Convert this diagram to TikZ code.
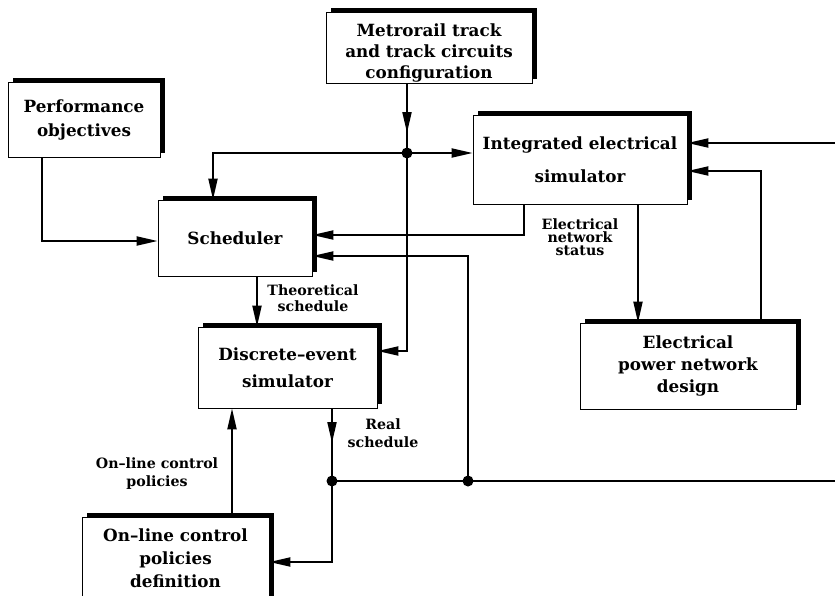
\documentclass[tikz,border=0pt]{standalone}
\usepackage{fontspec}
\setmainfont{DejaVu Serif}
\usetikzlibrary{arrows.meta,shadows,calc}
\begin{document}
\begin{tikzpicture}[x=1pt,y=-1pt,
  box/.style={draw,line width=0.8pt,fill=white,inner sep=0pt,align=center,
    drop shadow={shadow xshift=5pt,shadow yshift=4pt,fill=black,opacity=1}},
  bf/.style={font=\bfseries\fontsize{16.8}{#1}\selectfont},
  conn/.style={line width=2pt},
  arr/.style={conn,-{Triangle[length=21pt,width=9pt]}},
  lbl/.style={font=\bfseries\fontsize{14.2}{#1}\selectfont,align=center,inner sep=0pt},
  dot/.style={circle,fill=black,inner sep=0pt,minimum size=11pt}]
\useasboundingbox (0,0) rectangle (835,595);

% boxes
\node[box,bf=21,minimum width=206pt,minimum height=71pt,text height=66pt] (metro) at (429,47.5) {Metrorail track\\and track circuits\\configuration};
\node[box,bf=24,minimum width=152pt,minimum height=75pt] (perf) at (84,119.5) {Performance\\objectives};
\node[box,bf=21,minimum width=154pt,minimum height=76pt] (sched) at (235,238) {Scheduler};
\node[box,bf=33,minimum width=214pt,minimum height=89pt] (integ) at (580,159.5) {Integrated electrical\\simulator};
\node[box,bf=27,minimum width=179pt,minimum height=81pt] (disc) at (287.5,367.5) {Discrete--event\\simulator};
\node[box,bf=22,minimum width=216pt,minimum height=86pt] (elec) at (688,366) {Electrical\\power network\\design};
\node[box,bf=23,minimum width=187pt,minimum height=83pt] (online) at (175.5,558.5) {On--line control\\policies\\definition};

% free points
\coordinate (j1) at (407,153);
\coordinate (m1) at (407,133);
\coordinate (j3) at (332,481);
\coordinate (j2) at (468,481);
\coordinate (m2) at (332,443);
\coordinate (eR) at (835,481);
\coordinate (eT) at (835,143);

% connectors
\draw[conn] (metro.south -| j1) -- (j1);
\draw[arr] (metro.south -| j1) -- (m1);
\draw[arr] (j1) -| ([xshift=-22pt]sched.north);
\draw[arr] (j1) -- (j1 -| integ.west);
\draw[arr] (j1) |- ([yshift=16.5pt]disc.east);
\draw[arr] ([xshift=-42pt]perf.south) |- ([yshift=-3pt]sched.west);
\draw[arr] ([xshift=-56pt]integ.south) |- ([yshift=3pt]sched.east);
\draw[arr] (j2) |- ([yshift=-18pt]sched.east);
\draw[arr] ([xshift=22pt]sched.south) -- ([xshift=22pt]sched.south |- disc.north);
\draw[conn] ([xshift=44.5pt]disc.south) -- (j3);
\draw[arr] ([xshift=44.5pt]disc.south) -- (m2);
\draw[arr] (j3) |- ([yshift=-3.5pt]online.east);
\draw[arr] ([xshift=56.5pt]online.north) -- ([xshift=56.5pt]online.north |- disc.south);
\draw[conn] (j3) -- (j2) -- (eR);
\draw[arr] (eT) -- (eT -| integ.east);
\draw[arr] ([xshift=73pt]elec.north) |- ([yshift=-11.5pt]integ.east);
\draw[arr] ([xshift=58pt]integ.south) -- ([xshift=58pt]integ.south |- elec.north);

% junctions
\node[dot] (d1) at (j1) {};
\node[dot] (d2) at (j2) {};
\node[dot] (d3) at (j3) {};

% labels
\node[lbl=16] (lsched) at (313,298) {Theoretical\\schedule};
\node[lbl=13] (lstat) at (580,237) {Electrical\\network\\status};
\node[lbl=18] (lreal) at (383,433) {Real\\schedule};
\node[lbl=18] (lpol) at (157,474) {On--line control\\policies};
\end{tikzpicture}
\end{document}
